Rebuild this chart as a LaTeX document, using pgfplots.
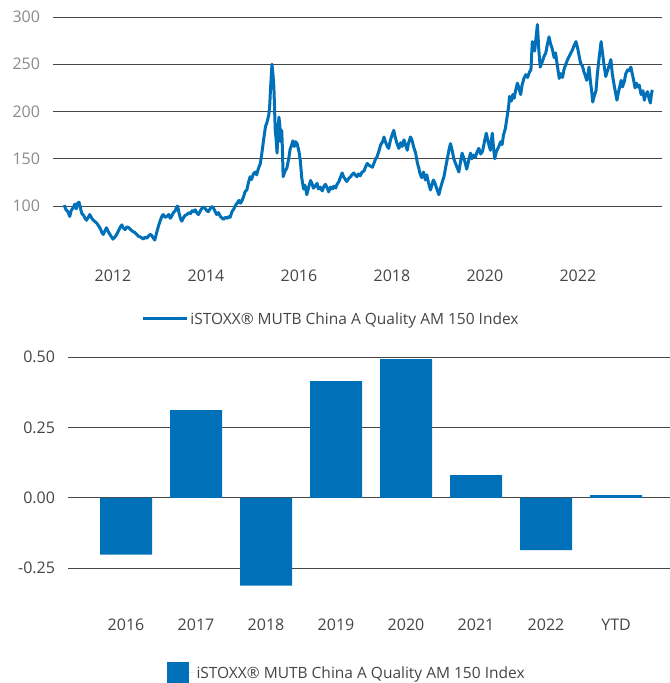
\documentclass[border=0pt]{standalone}
\usepackage{pgfplots}
\pgfplotsset{compat=1.18}
\usepackage{fontspec}
\setmainfont{Open Sans}
\definecolor{stoxx}{HTML}{0070B8}
\definecolor{tickgray}{HTML}{8A8A8A}
\definecolor{dgray}{HTML}{454545}
\newcommand{\lblfont}{\fontsize{16bp}{19bp}\selectfont}
\newcommand{\legfont}{\fontsize{15.5bp}{18bp}\selectfont}
\pgfplotstableread{
x y
2010.95 101
2010.99 96
2011.03 94
2011.07 89
2011.10 95
2011.14 98
2011.18 102
2011.21 97
2011.24 103
2011.27 104
2011.30 98
2011.33 92
2011.37 90
2011.40 87
2011.43 85
2011.47 88
2011.50 91
2011.52 89
2011.56 86
2011.60 84
2011.65 82
2011.69 79
2011.73 76
2011.76 72
2011.79 70
2011.83 74
2011.86 77
2011.89 74
2011.92 71
2011.96 68
2012.00 65
2012.04 67
2012.08 70
2012.12 74
2012.16 78
2012.19 80
2012.22 77
2012.26 75
2012.30 78
2012.34 77
2012.38 75
2012.43 73
2012.47 72
2012.51 70
2012.55 68
2012.60 67
2012.65 65
2012.69 67
2012.73 66
2012.76 68
2012.80 70
2012.83 69
2012.87 66
2012.90 64
2012.94 72
2012.98 79
2013.02 85
2013.05 89
2013.08 91
2013.12 88
2013.16 89
2013.20 91
2013.23 87
2013.26 89
2013.30 93
2013.34 95
2013.37 99
2013.39 100
2013.42 93
2013.45 87
2013.48 84
2013.52 88
2013.55 90
2013.59 91
2013.63 93
2013.67 92
2013.70 95
2013.73 94
2013.77 96
2013.80 93
2013.84 91
2013.88 95
2013.92 98
2013.95 99
2013.99 97
2014.02 95
2014.05 94
2014.09 97
2014.12 99
2014.15 99
2014.19 95
2014.23 91
2014.27 93
2014.31 89
2014.35 87
2014.38 86
2014.42 88
2014.46 87
2014.49 89
2014.52 88
2014.56 94
2014.60 97
2014.64 101
2014.67 103
2014.71 106
2014.74 103
2014.77 105
2014.81 110
2014.84 115
2014.88 117
2014.91 124
2014.95 131
2014.98 128
2015.02 134
2015.06 136
2015.09 133
2015.13 140
2015.17 145
2015.20 155
2015.24 170
2015.28 184
2015.31 188
2015.35 196
2015.37 205
2015.39 225
2015.42 250
2015.44 240
2015.46 227
2015.475 205
2015.49 181
2015.51 170
2015.53 156
2015.55 180
2015.57 194
2015.59 185
2015.61 168
2015.63 180
2015.645 160
2015.66 131
2015.70 137
2015.74 140
2015.78 150
2015.81 160
2015.84 164
2015.87 169
2015.90 163
2015.93 168
2015.96 166
2016.00 158
2016.03 148
2016.06 130
2016.10 118
2016.13 122
2016.17 112
2016.21 120
2016.25 127
2016.28 124
2016.31 119
2016.35 121
2016.39 124
2016.42 118
2016.46 120
2016.50 116
2016.54 121
2016.57 123
2016.61 119
2016.64 115
2016.68 120
2016.72 118
2016.75 121
2016.79 119
2016.82 123
2016.86 126
2016.89 130
2016.93 135
2016.96 131
2017.00 128
2017.03 126
2017.07 129
2017.11 131
2017.14 133
2017.18 135
2017.21 133
2017.25 131
2017.28 134
2017.32 132
2017.36 136
2017.40 137
2017.43 141
2017.47 145
2017.51 143
2017.55 142
2017.58 141
2017.62 146
2017.65 150
2017.68 152
2017.72 158
2017.76 165
2017.80 168
2017.83 173
2017.86 168
2017.90 163
2017.93 161
2017.97 170
2018.01 176
2018.04 180
2018.07 173
2018.11 166
2018.15 161
2018.19 167
2018.22 163
2018.26 170
2018.29 165
2018.33 159
2018.36 167
2018.40 173
2018.43 170
2018.47 162
2018.51 156
2018.55 145
2018.58 140
2018.60 135
2018.64 130
2018.68 136
2018.72 127.5
2018.75 133
2018.79 124
2018.83 117
2018.86 122
2018.89 127.5
2018.92 125
2018.96 119
2019.01 112
2019.04 118
2019.08 125
2019.12 131
2019.16 142
2019.20 152
2019.23 160
2019.26 166
2019.30 158
2019.33 150
2019.37 145
2019.40 141
2019.44 136
2019.48 148
2019.51 156
2019.55 150
2019.58 145
2019.61 139
2019.65 148
2019.69 156
2019.72 150
2019.76 154
2019.80 152
2019.83 157
2019.87 161
2019.91 155
2019.95 158
2019.99 168
2020.03 177
2020.06 170
2020.09 164
2020.12 159
2020.14 170
2020.16 177
2020.18 165
2020.21 150
2020.25 158
2020.30 163
2020.34 168
2020.37 165
2020.40 175
2020.44 182
2020.48 195
2020.51 205
2020.53 216
2020.57 211
2020.60 218
2020.63 214
2020.66 222
2020.70 230
2020.73 225
2020.77 218
2020.80 228
2020.84 235
2020.88 239
2020.92 236
2020.96 242
2020.99 244
2021.02 274
2021.05 268
2021.07 264
2021.10 278
2021.13 292
2021.16 265
2021.19 247
2021.23 252
2021.27 258
2021.31 262
2021.34 270
2021.38 279
2021.41 272
2021.45 266
2021.49 257
2021.52 262
2021.56 248
2021.60 235
2021.63 240
2021.67 236
2021.70 244
2021.74 250
2021.78 255
2021.81 258
2021.85 262
2021.89 266
2021.92 270
2021.96 274
2022.00 266
2022.03 258
2022.06 251
2022.10 248
2022.13 242
2022.16 238
2022.19 233
2022.22 240
2022.24 247
2022.27 232
2022.30 220
2022.32 210
2022.35 216
2022.39 222
2022.42 240
2022.46 258
2022.50 274
2022.53 262
2022.56 250
2022.60 237
2022.63 242
2022.67 248
2022.71 255
2022.74 240
2022.78 228
2022.81 220
2022.84 212
2022.87 220
2022.90 226
2022.93 233
2022.96 226
2023.00 232
2023.03 240
2023.07 244
2023.10 243
2023.14 247
2023.17 240
2023.20 233
2023.23 225
2023.26 230
2023.29 226
2023.32 228
2023.36 218
2023.40 222
2023.43 212
2023.46 218
2023.50 221
2023.53 214
2023.56 209
2023.58 217
2023.60 223
}\indexdata
\pgfplotstableread{
x y
0 -0.202
1 0.311
2 -0.312
3 0.414
4 0.4925
5 0.0806
6 -0.186
7 0.0096
}\bardata
\begin{document}
\begin{tikzpicture}[x=1bp,y=1bp]
\path[use as bounding box] (0,0) rectangle (670,683);
\begin{axis}[
  at={(53bp,429.7bp)}, anchor=south west,
  scale only axis, width=609bp, height=236.3bp,
  xmin=2010.71, xmax=2023.81, ymin=50, ymax=300,
  axis line style={draw=none}, major tick length=0pt,
  xtick={2012,2014,...,2022}, ytick={100,150,...,300},
  ymajorgrids, grid style={black!72, line width=0.9bp},
  /pgf/number format/assume math mode=true,
  /pgf/number format/1000 sep={},
  xticklabel style={font=\lblfont, text=dgray, yshift=-13bp},
  yticklabel style={font=\lblfont, text=tickgray, xshift=-9.5bp},
  legend style={at={(0.4565,-0.278)}, anchor=center, draw=none, fill=none,
    font=\legfont, text=dgray},
  legend image code/.code={\draw[#1] (0bp,0bp) -- (40bp,0bp); \path (40bp,0bp) -- (44bp,0bp);},
]
\addplot[stoxx, line width=3bp, line join=round] table[x=x,y=y] {\indexdata};
\addlegendentry{iSTOXX® MUTB China A Quality AM 150 Index}
\end{axis}
\begin{axis}[
  at={(68bp,86.7bp)}, anchor=south west,
  scale only axis, width=602bp, height=239.3bp,
  xmin=-0.829, xmax=7.771, ymin=-0.35, ymax=0.5,
  axis line style={draw=none}, major tick length=0pt,
  xtick=data, xticklabels={2016,2017,2018,2019,2020,2021,2022,YTD},
  ytick={-0.25,0,0.25,0.5},
  ymajorgrids, grid style={black!72, line width=0.9bp},
  /pgf/number format/assume math mode=true,
  /pgf/number format/.cd, fixed, fixed zerofill, precision=2, /pgfplots/.cd,
  xticklabel style={font=\lblfont, text=dgray, yshift=-19.5bp},
  yticklabel style={font=\lblfont, text=dgray, xshift=-9.5bp},
  legend style={at={(0.4627,-0.3205)}, anchor=center, draw=none, fill=none,
    font=\legfont, text=dgray},
  legend image code/.code={\fill[stoxx] (0bp,-11bp) rectangle (22bp,11bp); \path (22bp,0bp) -- (28bp,0bp);},
  clip=false,
]
\addplot[ybar, bar width=52bp, fill=stoxx, draw=none] table[x=x,y=y] {\bardata};
\addlegendentry{iSTOXX® MUTB China A Quality AM 150 Index}
\end{axis}
\end{tikzpicture}
\end{document}
